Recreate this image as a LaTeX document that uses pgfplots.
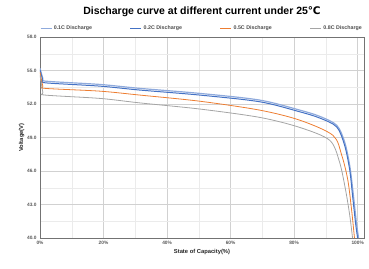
\documentclass[border=0pt]{standalone}
\usepackage{pgfplots}
\pgfplotsset{compat=1.18}
\usepackage{fontspec}
\setmainfont{Liberation Sans}
\newfontfamily\dejavu{DejaVu Sans}
\definecolor{cA}{HTML}{8FAADC}
\definecolor{cB}{HTML}{4472C4}
\definecolor{cC}{HTML}{ED7D31}
\definecolor{cD}{HTML}{A5A5A5}
\begin{document}
\begin{tikzpicture}
\begin{axis}[
  scale only axis, width=324pt, height=201pt,
  xmin=0, xmax=102, ymin=40, ymax=58,
  xtick={0,20,40,60,80,100},
  xticklabels={0\%,20\%,40\%,60\%,80\%,100\%},
  ytick={40,43,46,49,52,55,58},
  yticklabel style={/pgf/number format/.cd,fixed,fixed zerofill,precision=1},
  /pgf/number format/assume math mode=true,
  minor x tick num=1, minor y tick num=1,
  grid=both,
  major grid style={draw=black!18, line width=0.4pt},
  minor grid style={draw=black!8, line width=0.3pt},
  axis line style={draw=black!55, line width=0.8pt},
  tick style={draw=none},
  ticklabel style={font=\fontsize{4.8}{5}\selectfont\bfseries, text=black!65},
  xlabel={State of Capacity(\%)}, ylabel={Voltage(V)},
  label style={font=\fontsize{5.8}{6}\selectfont\bfseries, text=black!85},
  xlabel style={yshift=3pt}, ylabel style={yshift=-4pt},
  title={Discharge curve at different current under 25{\dejavu\bfseries ℃}},
  title style={font=\fontsize{10.5}{11}\selectfont\bfseries, yshift=11pt},
  legend columns=4,
  legend style={at={(0.5,1.01)}, anchor=south, draw=none, fill=none,
    font=\fontsize{5.3}{6}\selectfont\bfseries, text=black!70,
    /tikz/every even column/.style={column sep=36pt}},
  legend image code/.code={\draw[#1, line width=0.6pt] (0pt,0pt) -- (11pt,0pt);},
]
\addplot[cA, line width=1.2pt, smooth] coordinates {
(0,55.2) (0.9,54.3) (1.6,54.05) (18.9,53.75) (31.4,53.4) (50.3,52.95) (69.2,52.35) (81.8,51.45) (88,50.9) (93.4,50.1) (95.9,48.6) (97.5,46.5) (98.6,44.0) (99.6,41.4) (100.3,40)};
\addlegendentry{0.1C Discharge}
\addplot[cB, line width=1.0pt, smooth] coordinates {
(0,55.05) (0.9,54.15) (1.6,53.9) (18.9,53.6) (31.4,53.25) (50.3,52.8) (69.2,52.2) (81.8,51.3) (88,50.75) (93.4,49.95) (95.9,48.3) (97.5,46.1) (98.4,43.8) (99.4,41.2) (100,40)};
\addlegendentry{0.2C Discharge}
\addplot[cC, line width=0.8pt, smooth] coordinates {
(0,54.85) (0.9,53.6) (1.6,53.4) (18.9,53.15) (31.4,52.8) (50.3,52.25) (69.2,51.45) (81.8,50.55) (92.2,49.2) (95,47.4) (96.9,45.2) (98.1,42.5) (99,40)};
\addlegendentry{0.5C Discharge}
\addplot[cD, line width=0.8pt, smooth] coordinates {
(0,54.6) (0.9,53.05) (1.6,52.8) (18.9,52.5) (31.4,52.1) (50.3,51.55) (69.2,50.8) (81.8,49.9) (91.2,48.75) (94.3,46.8) (96.2,44.3) (97.5,42.05) (98.4,40)};
\addlegendentry{0.8C Discharge}
\coordinate (SW) at (rel axis cs:0,0);
\coordinate (NE) at (rel axis cs:1,1);
\end{axis}
\pgfresetboundingbox
\path ([shift={(-40pt,-30pt)}]SW) rectangle ([shift={(5pt,37pt)}]NE);
\end{tikzpicture}
\end{document}
